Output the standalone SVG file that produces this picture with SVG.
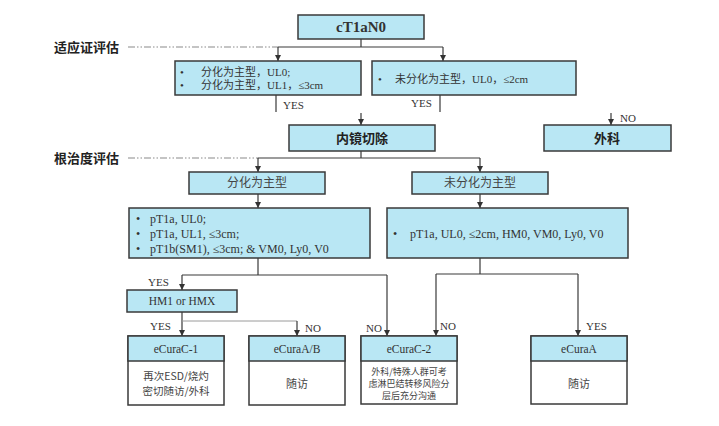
<svg xmlns="http://www.w3.org/2000/svg" width="719" height="426" viewBox="0 0 719 426">
<defs>
<marker id="arr" viewBox="0 0 6 6" refX="6" refY="3" markerWidth="6" markerHeight="6" markerUnits="userSpaceOnUse" orient="auto">
<path d="M0,0 L6,3 L0,6 Z" fill="#333"/>
</marker>
<style>
.box{fill:#b9e7f4;stroke:#3a3a3a;stroke-width:1.5}
.body{fill:#ffffff;stroke:#3a3a3a;stroke-width:1.5}
.ln{fill:none;stroke:#3a3a3a;stroke-width:1.2}
.lt{fill:none;stroke:#9a9a9a;stroke-width:1}
.dd{fill:none;stroke:#8a8a8a;stroke-width:1.2;stroke-dasharray:7 2 1.5 2 1.5 2}
.ser{font-family:"Liberation Serif","Noto Sans CJK SC",serif;fill:#333}
.sans{font-family:"Noto Sans CJK SC","Liberation Sans",sans-serif;fill:#444}
.lbl{font-family:"Liberation Serif",serif;font-size:11px;fill:#333}
.ttl{font-family:"Noto Sans CJK SC","Liberation Sans",sans-serif;font-size:13px;font-weight:bold;fill:#222}
</style>
</defs>
<rect width="719" height="426" fill="#fff"/>

<g id="section-labels">
<text class="ttl" x="54" y="52">适应证评估</text>
<path class="dd" d="M128,47 H278"/>
<text class="ttl" x="54" y="163">根治度评估</text>
<path class="dd" d="M128,158 H258"/>
</g>

<g id="connectors">
<path class="ln" d="M361,39 V47 M278,47 H443"/>
<path class="ln" d="M278,47 V61" marker-end="url(#arr)"/>
<path class="ln" d="M443,47 V61" marker-end="url(#arr)"/>
<path class="ln" d="M276,95 V112 M440,95 V112"/>
<path class="ln" d="M361,113 V125" marker-end="url(#arr)"/>
<path class="ln" d="M611,113 V125" marker-end="url(#arr)"/>
<path class="ln" d="M361,151 V158 M258,158 H480"/>
<path class="ln" d="M258,158 V172" marker-end="url(#arr)"/>
<path class="ln" d="M480,158 V172" marker-end="url(#arr)"/>
<path class="ln" d="M258,194 V208" marker-end="url(#arr)"/>
<path class="ln" d="M480,194 V208" marker-end="url(#arr)"/>
<path class="ln" d="M258,258 V275 M182,275 H387"/>
<path class="ln" d="M182,275 V290" marker-end="url(#arr)"/>
<path class="ln" d="M387,275 V336" marker-end="url(#arr)"/>
<path class="ln" d="M480,258 V274 M436,274 H578"/>
<path class="ln" d="M436,274 V336" marker-end="url(#arr)"/>
<path class="ln" d="M578,274 V336" marker-end="url(#arr)"/>
<path class="ln" d="M182,312 V336" marker-end="url(#arr)"/>
<path class="lt" d="M182,321 H297"/>
<path class="ln" d="M297,321 V336" marker-end="url(#arr)"/>
<text class="lbl" x="283" y="109">YES</text>
<text class="lbl" x="411" y="107">YES</text>
<text class="lbl" x="620" y="122">NO</text>
<text class="lbl" x="148" y="286">YES</text>
<text class="lbl" x="150" y="330">YES</text>
<text class="lbl" x="305" y="332">NO</text>
<text class="lbl" x="366" y="332">NO</text>
<text class="lbl" x="440" y="330">NO</text>
<text class="lbl" x="586" y="330">YES</text>
</g>

<g id="n-ct1an0">
<rect class="box" x="298" y="15" width="126" height="24"/>
<text class="ser" x="361" y="32" font-size="15" font-weight="bold" text-anchor="middle">cT1aN0</text>
</g>

<g id="n-indication-diff">
<rect class="box" x="175" y="61" width="186" height="34"/>
<text class="ser" font-size="11"><tspan x="180" y="76">•</tspan><tspan x="201" y="76">分化为主型，UL0;</tspan><tspan x="180" y="89">•</tspan><tspan x="201" y="89">分化为主型，UL1，≤3cm</tspan></text>
</g>

<g id="n-indication-undiff">
<rect class="box" x="372" y="61" width="204" height="34"/>
<text class="ser" font-size="11"><tspan x="378" y="83">•</tspan><tspan x="395" y="83">未分化为主型，UL0，≤2cm</tspan></text>
</g>

<g id="n-esd">
<rect class="box" x="289" y="125" width="146" height="26"/>
<text class="ttl" x="362" y="143" font-size="14" text-anchor="middle">内镜切除</text>
</g>

<g id="n-surgery">
<rect class="box" x="544" y="125" width="127" height="26"/>
<text class="ttl" x="607" y="143" font-size="14" text-anchor="middle">外科</text>
</g>

<g id="n-diff">
<rect class="box" x="189" y="172" width="136" height="22"/>
<text class="sans" x="257" y="187" font-size="12" text-anchor="middle">分化为主型</text>
</g>

<g id="n-undiff">
<rect class="box" x="412" y="172" width="136" height="22"/>
<text class="sans" x="480" y="187" font-size="12" text-anchor="middle">未分化为主型</text>
</g>

<g id="n-criteria-diff">
<rect class="box" x="129" y="208" width="241" height="50"/>
<text class="ser" font-size="12"><tspan x="136" y="223">•</tspan><tspan x="150" y="223">pT1a, UL0;</tspan><tspan x="136" y="238">•</tspan><tspan x="150" y="238">pT1a, UL1,  ≤3cm;</tspan><tspan x="136" y="253">•</tspan><tspan x="150" y="253">pT1b(SM1), ≤3cm; &amp; VM0, Ly0, V0</tspan></text>
</g>

<g id="n-criteria-undiff">
<rect class="box" x="387" y="208" width="241" height="50"/>
<text class="ser" font-size="12"><tspan x="393" y="238">•</tspan><tspan x="410" y="238">pT1a, UL0, ≤2cm, HM0, VM0, Ly0, V0</tspan></text>
</g>

<g id="n-hm">
<rect class="box" x="127" y="290" width="110" height="22"/>
<text class="ser" x="182" y="305" font-size="11.5" text-anchor="middle">HM1 or HMX</text>
</g>

<g id="n-ecurac1">
<rect class="body" x="128" y="336" width="96" height="69"/>
<rect class="box" x="128" y="336" width="96" height="25"/>
<text class="ser" x="176" y="353" font-size="11.5" text-anchor="middle">eCuraC-1</text>
<text class="sans" font-size="10.5" text-anchor="middle"><tspan x="176" y="380">再次ESD/烧灼</tspan><tspan x="176" y="395">密切随访/外科</tspan></text>
</g>

<g id="n-ecuraab">
<rect class="body" x="249" y="336" width="96" height="69"/>
<rect class="box" x="249" y="336" width="96" height="25"/>
<text class="ser" x="297" y="353" font-size="11.5" text-anchor="middle">eCuraA/B</text>
<text class="sans" x="297" y="388" font-size="11" text-anchor="middle">随访</text>
</g>

<g id="n-ecurac2">
<rect class="body" x="361" y="336" width="96" height="68"/>
<rect class="box" x="361" y="336" width="96" height="25"/>
<text class="ser" x="409" y="353" font-size="11.5" text-anchor="middle">eCuraC-2</text>
<text class="sans" font-size="9" text-anchor="middle"><tspan x="409" y="375">外科/特殊人群可考</tspan><tspan x="409" y="387">虑淋巴结转移风险分</tspan><tspan x="409" y="399">层后充分沟通</tspan></text>
</g>

<g id="n-ecuraa">
<rect class="body" x="531" y="336" width="96" height="68"/>
<rect class="box" x="531" y="336" width="96" height="25"/>
<text class="ser" x="579" y="353" font-size="11.5" text-anchor="middle">eCuraA</text>
<text class="sans" x="579" y="388" font-size="11" text-anchor="middle">随访</text>
</g>
</svg>
